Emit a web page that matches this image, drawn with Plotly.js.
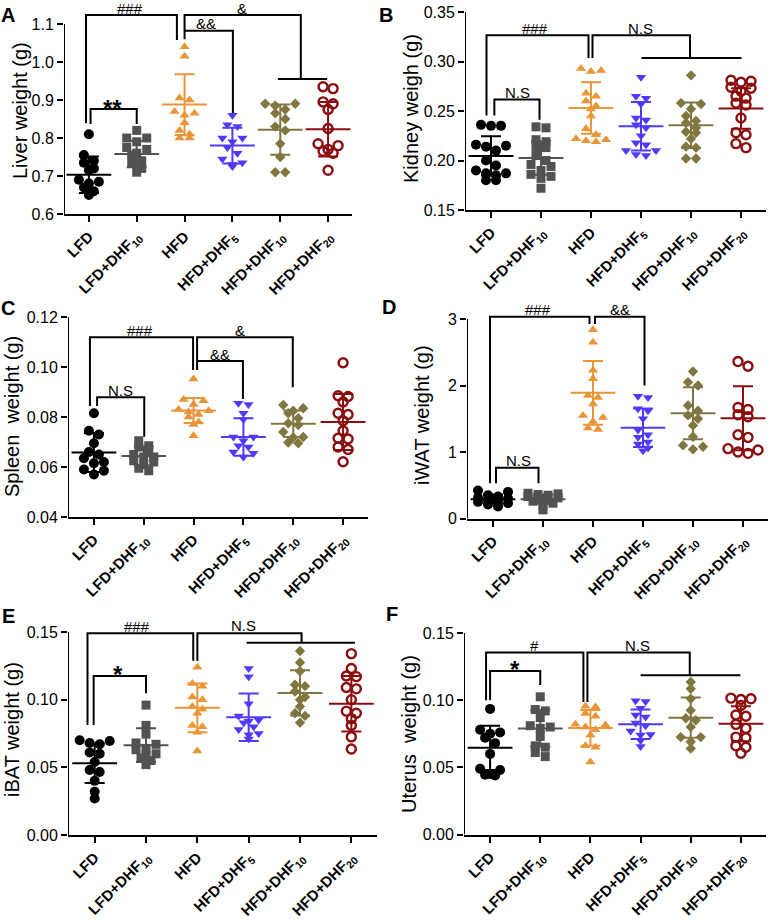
<!DOCTYPE html>
<html>
<head>
<meta charset="utf-8">
<script src="https://cdn.plot.ly/plotly-3.0.1.min.js"></script>
<style>
  body { margin: 0; background: #fff; }
  #fig { width: 770px; height: 923px; }
</style>
</head>
<body>
<div id="fig"></div>
<script>
// Groups shown on every panel
var groups = ['LFD', 'LFD+DHF<sub>10</sub>', 'HFD', 'HFD+DHF<sub>5</sub>', 'HFD+DHF<sub>10</sub>', 'HFD+DHF<sub>20</sub>'];

// A: liver weight (g)
var liver = [
  [0.81, 0.755, 0.74, 0.735, 0.72, 0.715, 0.69, 0.685, 0.68, 0.67, 0.66, 0.65],
  [0.82, 0.80, 0.80, 0.79, 0.775, 0.77, 0.76, 0.755, 0.74, 0.735, 0.72, 0.71],
  [1.04, 1.015, 0.905, 0.90, 0.87, 0.865, 0.86, 0.84, 0.82, 0.81, 0.80, 0.80],
  [0.86, 0.835, 0.83, 0.80, 0.80, 0.79, 0.775, 0.76, 0.745, 0.735, 0.73, 0.725],
  [0.89, 0.89, 0.885, 0.875, 0.865, 0.85, 0.83, 0.82, 0.785, 0.75, 0.71, 0.71],
  [0.935, 0.93, 0.895, 0.89, 0.875, 0.825, 0.785, 0.78, 0.77, 0.765, 0.76, 0.715]
];
var liverMean = [0.703, 0.758, 0.888, 0.780, 0.822, 0.823];
var liverSD = [0.048, 0.035, 0.080, 0.047, 0.066, 0.072];
var liverTicks = [0.6, 0.7, 0.8, 0.9, 1.0, 1.1];

// B: kidney weight (g)
var kidney = [
  [0.236, 0.235, 0.235, 0.216, 0.215, 0.214, 0.21, 0.2, 0.195, 0.19, 0.187, 0.187, 0.185, 0.18, 0.18],
  [0.234, 0.233, 0.221, 0.219, 0.214, 0.213, 0.205, 0.2, 0.196, 0.194, 0.19, 0.186, 0.184, 0.182, 0.172],
  [0.293, 0.291, 0.29, 0.268, 0.265, 0.26, 0.255, 0.252, 0.245, 0.232, 0.226, 0.222, 0.221, 0.22, 0.219],
  [0.284, 0.265, 0.263, 0.257, 0.243, 0.241, 0.236, 0.233, 0.225, 0.218, 0.216, 0.21, 0.21, 0.206, 0.205],
  [0.286, 0.258, 0.257, 0.252, 0.245, 0.24, 0.238, 0.233, 0.229, 0.228, 0.222, 0.214, 0.213, 0.202, 0.202],
  [0.281, 0.28, 0.279, 0.274, 0.273, 0.27, 0.265, 0.263, 0.258, 0.256, 0.243, 0.228, 0.226, 0.217, 0.213]
];
var kidneyMean = [0.2045, 0.2025, 0.253, 0.2345, 0.2357, 0.2525];
var kidneySD = [0.020, 0.017, 0.026, 0.0245, 0.023, 0.0205];
var kidneyTicks = [0.15, 0.20, 0.25, 0.30, 0.35];

// C: spleen weight (g)
var spleen = [
  [0.0815, 0.0745, 0.073, 0.0695, 0.066, 0.065, 0.0635, 0.062, 0.0615, 0.059, 0.0585, 0.057],
  [0.0705, 0.0685, 0.068, 0.066, 0.065, 0.064, 0.064, 0.0625, 0.062, 0.061, 0.0595, 0.0585],
  [0.0952, 0.087, 0.0865, 0.085, 0.083, 0.0825, 0.082, 0.081, 0.08, 0.078, 0.077, 0.0725],
  [0.0855, 0.085, 0.0815, 0.079, 0.072, 0.072, 0.0705, 0.0685, 0.068, 0.066, 0.0655, 0.064],
  [0.0848, 0.0835, 0.0825, 0.0815, 0.0795, 0.0775, 0.0768, 0.074, 0.072, 0.0718, 0.0698, 0.0695],
  [0.1017, 0.0885, 0.0882, 0.086, 0.0815, 0.081, 0.0785, 0.0745, 0.0715, 0.0712, 0.068, 0.067, 0.0621]
];
var spleenMean = [0.0658, 0.0644, 0.0826, 0.072, 0.0773, 0.078];
var spleenSD = [0.0078, 0.0038, 0.005, 0.0075, 0.0053, 0.0112];
var spleenTicks = [0.04, 0.06, 0.08, 0.10, 0.12];

// D: iWAT weight (g)
var iwat = [
  [0.42, 0.40, 0.35, 0.33, 0.31, 0.30, 0.28, 0.27, 0.25, 0.23, 0.21, 0.18],
  [0.38, 0.37, 0.36, 0.35, 0.33, 0.31, 0.30, 0.28, 0.26, 0.23, 0.19, 0.13],
  [2.84, 2.65, 2.23, 2.1, 1.85, 1.82, 1.72, 1.55, 1.52, 1.46, 1.36, 1.34],
  [1.84, 1.82, 1.65, 1.62, 1.5, 1.33, 1.26, 1.22, 1.15, 1.12, 1.06, 1.02],
  [2.21, 2.05, 2.0, 1.7, 1.62, 1.55, 1.5, 1.4, 1.23, 1.1, 1.08, 1.04],
  [2.36, 2.29, 1.67, 1.64, 1.56, 1.53, 1.26, 1.22, 1.05, 1.03, 1.0, 0.98]
];
var iwatMean = [0.29, 0.29, 1.89, 1.366, 1.582, 1.507];
var iwatSD = [0.07, 0.07, 0.48, 0.29, 0.39, 0.48];
var iwatTicks = [0, 1, 2, 3];

// E: iBAT weight (g)
var ibat = [
  [0.07, 0.0695, 0.068, 0.067, 0.061, 0.06, 0.054, 0.048, 0.0465, 0.04, 0.032, 0.027],
  [0.096, 0.081, 0.0745, 0.068, 0.067, 0.064, 0.063, 0.06, 0.059, 0.057, 0.055, 0.052],
  [0.124, 0.112, 0.11, 0.102, 0.1, 0.095, 0.093, 0.09, 0.081, 0.08, 0.076, 0.062],
  [0.123, 0.117, 0.097, 0.088, 0.085, 0.084, 0.083, 0.08, 0.078, 0.075, 0.074, 0.071],
  [0.136, 0.1275, 0.121, 0.111, 0.11, 0.106, 0.102, 0.1, 0.095, 0.09, 0.088, 0.083],
  [0.134, 0.123, 0.1175, 0.117, 0.109, 0.108, 0.1, 0.0915, 0.09, 0.086, 0.081, 0.0725, 0.0635]
];
var ibatMean = [0.053, 0.0664, 0.094, 0.087, 0.105, 0.097];
var ibatSD = [0.0145, 0.0124, 0.018, 0.0175, 0.0167, 0.0205];
var ibatTicks = [0, 0.05, 0.10, 0.15];

// F: uterus weight (g)
var uterus = [
  [0.0935, 0.078, 0.076, 0.075, 0.072, 0.068, 0.06, 0.049, 0.048, 0.045, 0.044, 0.0445],
  [0.1025, 0.093, 0.092, 0.087, 0.081, 0.08, 0.079, 0.073, 0.066, 0.065, 0.061, 0.058],
  [0.0955, 0.095, 0.09, 0.088, 0.082, 0.0815, 0.08, 0.078, 0.074, 0.066, 0.065, 0.054],
  [0.0995, 0.099, 0.094, 0.089, 0.0875, 0.083, 0.081, 0.077, 0.0745, 0.074, 0.07, 0.0655],
  [0.1135, 0.1085, 0.101, 0.0925, 0.0865, 0.085, 0.08, 0.0725, 0.0725, 0.069, 0.064],
  [0.1015, 0.101, 0.1005, 0.096, 0.089, 0.088, 0.082, 0.079, 0.0725, 0.072, 0.066, 0.065, 0.0605]
];
var uterusMean = [0.0645, 0.079, 0.0793, 0.082, 0.087, 0.0825];
var uterusSD = [0.0165, 0.0135, 0.0133, 0.011, 0.015, 0.013];
var uterusTicks = [0, 0.05, 0.10, 0.15];

var W = 770, H = 923;
var FONT = 'Liberation Sans, Arial, sans-serif';
var colors = ['#000000', '#525252', '#E99538', '#4F3BF7', '#807640', '#8C0D0D'];
var symbols = ['circle', 'square', 'triangle-up', 'triangle-down', 'diamond', 'circle-open'];
var sizes = [10, 9, 9, 9, 8, 9];
var XR = [-0.52, 5.5];

// panel frames in pixels, and significance brackets in (group index, value)
var panels = [
  {letter: 'A', lx: 8, ly: 15, title: 'Liver weight (g)', tx: 20, ty: 111,
   x: [64, 352], yb: 214, yt: 24, vb: 0.6, vt: 1.1, top: 2, fmt: '.1f',
   vals: liver, mean: liverMean, sd: liverSD, ticks: liverTicks,
   brackets: [
     {t: '###', at: [0.86, 1.124], sh: 6, lines: [[[-0.06, 0.839], [-0.06, 1.124], [1.84, 1.124], [1.84, 1.058]]]},
     {t: '&', at: [3.2, 1.124], sh: 6, lines: [[[2.0, 1.06], [2.0, 1.124], [4.43, 1.124], [4.43, 0.955]], [[3.95, 0.955], [4.98, 0.955]]]},
     {t: '&&', at: [2.44, 1.082], sh: 7, lines: [[[2.0, 1.082], [3.01, 1.082], [3.01, 0.866]]]},
     {t: '**', at: [0.5, 0.876], sh: 1, big: true, lines: [[[0.035, 0.837], [0.035, 0.876], [1.0, 0.876], [1.0, 0.837]]]}
   ]},
  {letter: 'B', lx: 386, ly: 15, title: 'Kidney weigh (g)', tx: 411, ty: 109,
   x: [465, 766], yb: 210, yt: 12, vb: 0.15, vt: 0.35, top: 2, fmt: '.2f',
   vals: kidney, mean: kidneyMean, sd: kidneySD, ticks: kidneyTicks,
   brackets: [
     {t: '###', at: [0.88, 0.3266], sh: 7, lines: [[[-0.09, 0.2455], [-0.09, 0.3266], [1.95, 0.3266], [1.95, 0.3035]]]},
     {t: 'N.S', at: [2.98, 0.3266], sh: 7, lines: [[[2.03, 0.3035], [2.03, 0.3266], [3.98, 0.3266], [3.98, 0.3035]], [[3.01, 0.3035], [5.01, 0.3035]]]},
     {t: 'N.S', at: [0.53, 0.2616], sh: 7, lines: [[[0.067, 0.2455], [0.067, 0.2616], [0.97, 0.2616], [0.97, 0.2411]]]}
   ]},
  {letter: 'C', lx: 8, ly: 308, title: 'Spleen  weight (g)', tx: 12, ty: 417,
   x: [68, 368], yb: 517, yt: 317, vb: 0.04, vt: 0.12, top: 303, fmt: '.2f',
   vals: spleen, mean: spleenMean, sd: spleenSD, ticks: spleenTicks,
   brackets: [
     {t: '###', at: [0.93, 0.1119], sh: 7, lines: [[[-0.08, 0.0844], [-0.08, 0.1119], [1.99, 0.1119], [1.99, 0.0988]]]},
     {t: '&', at: [2.94, 0.1119], sh: 7, lines: [[[2.07, 0.0988], [2.07, 0.1119], [3.99, 0.1119], [3.99, 0.0919]]]},
     {t: '&&', at: [2.52, 0.1024], sh: 7, lines: [[[2.07, 0.1024], [2.99, 0.1024], [2.99, 0.0872]]]},
     {t: 'N.S', at: [0.53, 0.0879], sh: 7, lines: [[[0.064, 0.0844], [0.064, 0.0879], [1.01, 0.0879], [1.01, 0.0721]]]}
   ]},
  {letter: 'D', lx: 389, ly: 307, title: 'iWAT weight (g)', tx: 422, ty: 415,
   x: [467, 768], yb: 518.5, yt: 319, vb: 0, vt: 3, top: 300, fmt: 'd',
   vals: iwat, mean: iwatMean, sd: iwatSD, ticks: iwatTicks,
   brackets: [
     {t: '###', at: [0.89, 3.035], sh: 7, lines: [[[-0.06, 0.53], [-0.06, 3.035], [1.93, 3.035], [1.93, 2.925]]]},
     {t: '&&', at: [2.54, 3.035], sh: 7, lines: [[[2.04, 2.925], [2.04, 3.035], [3.03, 3.035], [3.03, 2.0]]]},
     {t: 'N.S', at: [0.5, 0.764], sh: 7, lines: [[[0.06, 0.53], [0.06, 0.764], [0.91, 0.764], [0.91, 0.53]]]}
   ]},
  {letter: 'E', lx: 8, ly: 616, title: 'iBAT weight (g)', tx: 12, ty: 730,
   x: [68, 377], yb: 835, yt: 632, vb: 0, vt: 0.15, top: 615, fmt: '.2f',
   vals: ibat, mean: ibatMean, sd: ibatSD, ticks: ibatTicks,
   brackets: [
     {t: '###', at: [0.83, 0.1491], sh: 7, lines: [[[-0.14, 0.0813], [-0.14, 0.1491], [1.92, 0.1491], [1.92, 0.1288]]]},
     {t: 'N.S', at: [2.9, 0.1491], sh: 8, lines: [[[2.0, 0.1288], [2.0, 0.1491], [4.03, 0.1491], [4.03, 0.1421]], [[2.96, 0.1421], [5.07, 0.1421]]]},
     {t: '*', at: [0.45, 0.1175], sh: 1, big: true, lines: [[[-0.02, 0.0813], [-0.02, 0.1175], [1.0, 0.1175], [1.0, 0.1047]]]}
   ]},
  {letter: 'F', lx: 392, ly: 614, title: 'Uterus  weight (g)', tx: 409, ty: 734,
   x: [464, 766], yb: 834.5, yt: 633, vb: 0, vt: 0.15, top: 615, fmt: '.2f',
   vals: uterus, mean: uterusMean, sd: uterusSD, ticks: uterusTicks,
   brackets: [
     {t: '#', at: [0.89, 0.1355], sh: 7, lines: [[[-0.08, 0.1], [-0.08, 0.1355], [1.86, 0.1355], [1.86, 0.0987]]]},
     {t: 'N.S', at: [2.94, 0.1355], sh: 7, lines: [[[1.94, 0.0987], [1.94, 0.1355], [3.98, 0.1355], [3.98, 0.1186]], [[3.0, 0.1186], [4.99, 0.1186]]]},
     {t: '*', at: [0.5, 0.1218], sh: 1, big: true, lines: [[[0.0, 0.1], [0.0, 0.1218], [1.0, 0.1218], [1.0, 0.1112]]]}
   ]}
];

// spread points of similar value into centred rows, like a scatter dot plot
function swarm(vals, pxPerUnit, pxPerIdx) {
  var order = vals.map(function (v, i) { return i; }).sort(function (a, b) { return vals[b] - vals[a]; });
  var off = vals.map(function () { return 0; });
  var row = [];
  var step = 10 / pxPerIdx;
  function flush() {
    var n = row.length;
    var slots = [];
    for (var j = 0; j < n; j++) slots.push((j - (n - 1) / 2) * step);
    // alternate sides so neighbours in value do not sit next to each other
    row.forEach(function (k, j) {
      var s = j % 2 === 0 ? slots[Math.floor(j / 2)] : slots[n - 1 - Math.floor(j / 2)];
      off[k] = s;
    });
    row = [];
  }
  order.forEach(function (k) {
    if (row.length && ((vals[row[0]] - vals[k]) * pxPerUnit > 6 || row.length >= 4)) flush();
    row.push(k);
  });
  flush();
  return off;
}

var data = [];
var shapes = [];
var annotations = [];
var layout = {
  width: W, height: H,
  margin: {l: 0, r: 0, t: 0, b: 0},
  showlegend: false,
  paper_bgcolor: '#ffffff',
  plot_bgcolor: '#ffffff',
  font: {family: FONT, color: '#000000'}
};

panels.forEach(function (p, n) {
  var sfx = n === 0 ? '' : String(n + 1);
  var xa = 'x' + sfx, ya = 'y' + sfx;
  var pxPerUnit = (p.yb - p.yt) / (p.vt - p.vb);
  var rangeTop = p.vt + (p.yt - p.top) / pxPerUnit;
  var pxPerIdx = (p.x[1] - p.x[0]) / (XR[1] - XR[0]);

  layout['xaxis' + sfx] = {
    domain: [p.x[0] / W, p.x[1] / W], anchor: ya, range: XR,
    tickvals: [0, 1, 2, 3, 4, 5], ticktext: groups, tickangle: -45,
    ticks: 'outside', ticklen: 6, tickwidth: 2, tickcolor: '#000',
    showline: true, linewidth: 2, linecolor: '#000',
    showgrid: false, zeroline: false,
    tickfont: {family: FONT, size: 15, weight: 'bold', color: '#000'}
  };
  layout['yaxis' + sfx] = {
    domain: [1 - p.yb / H, 1 - p.top / H], anchor: xa, range: [p.vb, rangeTop],
    tickvals: p.ticks, tickformat: p.fmt,
    ticks: 'outside', ticklen: 6, tickwidth: 2, tickcolor: '#000',
    showline: false, showgrid: false, zeroline: false,
    tickfont: {family: FONT, size: 16, color: '#000'}
  };

  // y axis line stops at the top tick
  data.push({
    x: [XR[0], XR[0]], y: [p.vb, p.vt], xaxis: xa, yaxis: ya,
    mode: 'lines', line: {color: '#000', width: 2}, cliponaxis: false, hoverinfo: 'skip'
  });

  p.vals.forEach(function (vals, g) {
    var off = swarm(vals, pxPerUnit, pxPerIdx);
    var open = symbols[g] === 'circle-open';
    data.push({
      x: vals.map(function (v, i) { return g + off[i]; }),
      y: vals, xaxis: xa, yaxis: ya, mode: 'markers', cliponaxis: false,
      marker: {
        symbol: symbols[g], size: sizes[g], color: colors[g],
        line: {color: colors[g], width: open ? 2.4 : 0}
      }
    });
  });

  p.mean.forEach(function (m, g) {
    data.push({
      x: [g], y: [m], xaxis: xa, yaxis: ya, mode: 'markers', cliponaxis: false,
      marker: {symbol: 'line-ew', size: 32, color: colors[g], line: {color: colors[g], width: 2}},
      error_y: {type: 'data', array: [p.sd[g]], visible: true, color: colors[g], thickness: 2, width: 10}
    });
  });

  p.brackets.forEach(function (b) {
    b.lines.forEach(function (pts) {
      var path = pts.map(function (q, i) { return (i ? 'L' : 'M') + q[0] + ',' + q[1]; }).join(' ');
      shapes.push({type: 'path', xref: xa, yref: ya, path: path, line: {color: '#000', width: 2}});
    });
    annotations.push({
      xref: xa, yref: ya, x: b.at[0], y: b.at[1], text: b.t, showarrow: false,
      xanchor: 'center', yanchor: 'middle', yshift: b.sh,
      font: b.big ? {family: FONT, size: 24, weight: 'bold', color: '#000'} : {family: FONT, size: 15, color: '#000'}
    });
  });

  annotations.push({
    xref: 'paper', yref: 'paper', x: p.lx / W, y: 1 - p.ly / H, text: '<b>' + p.letter + '</b>',
    showarrow: false, xanchor: 'center', yanchor: 'middle',
    font: {family: FONT, size: 20, color: '#000'}
  });
  annotations.push({
    xref: 'paper', yref: 'paper', x: p.tx / W, y: 1 - p.ty / H, text: p.title, textangle: -90,
    showarrow: false, xanchor: 'center', yanchor: 'middle',
    font: {family: FONT, size: 20, color: '#000'}
  });
});

layout.shapes = shapes;
layout.annotations = annotations;

Plotly.newPlot('fig', data, layout, {staticPlot: true});
</script>
</body>
</html>
